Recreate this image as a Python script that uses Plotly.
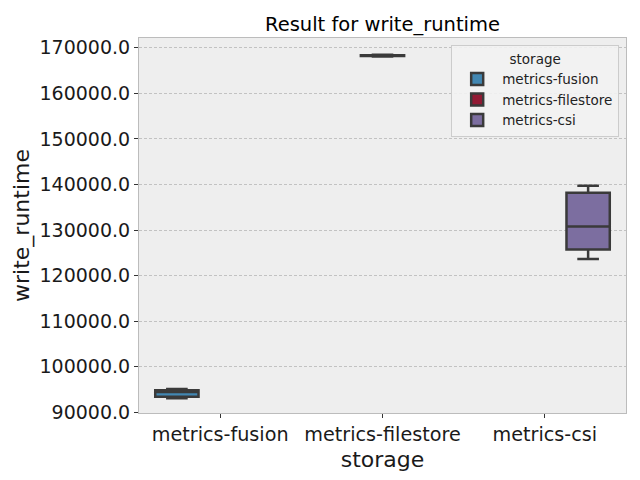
import plotly.graph_objects as go

categories = ["metrics-fusion", "metrics-filestore", "metrics-csi"]
colors = ["#4287B2", "#921A34", "#7C6EA0"]
q1 = [93450, 168150, 125750]
median = [94450, 168250, 130800]
q3 = [94850, 168350, 138200]
lowerfence = [93100, 168050, 123650]
upperfence = [95150, 168450, 139700]
yticks = [90000, 100000, 110000, 120000, 130000, 140000, 150000, 160000, 170000]

font = "DejaVu Sans"
fig = go.Figure()
for i, cat in enumerate(categories):
    fig.add_trace(go.Box(
        x=[cat], q1=[q1[i]], median=[median[i]], q3=[q3[i]],
        lowerfence=[lowerfence[i]], upperfence=[upperfence[i]],
        name=cat, offsetgroup=cat,
        fillcolor=colors[i],
        line=dict(color="#3a3a3a", width=2.5),
        whiskerwidth=0.5, boxpoints=False,
    ))

fig.update_layout(
    width=640, height=480,
    margin=dict(l=139, r=14, t=38, b=67),
    paper_bgcolor="white", plot_bgcolor="#EEEEEE",
    boxmode="group", boxgap=0.2, boxgroupgap=0,
    font=dict(family=font, color="#1a1a1a"),
    title=dict(text="Result for write_runtime", x=0.5, xref="paper", xanchor="center",
               y=1 - 24 / 480, yanchor="middle", font=dict(size=19.5, family=font, color="black")),
    legend=dict(
        x=0.986, xanchor="right", y=0.981, yanchor="top",
        bgcolor="rgba(242,242,242,0.9)", bordercolor="#cccccc", borderwidth=1,
        font=dict(size=13.5, family=font, color="#222"),
        title=dict(text="storage", side="top center", font=dict(size=13.5, family=font, color="#222")),
        tracegroupgap=2, itemwidth=40,
    ),
    showlegend=True,
)
fig.update_xaxes(
    categoryorder="array", categoryarray=categories, range=[-0.5, 2.5],
    showgrid=False, ticks="outside", ticklen=4, tickcolor="#333",
    tickfont=dict(size=19.2, family=font, color="#1a1a1a"),
    title=dict(text="storage", font=dict(size=22, family=font, color="#1a1a1a"), standoff=6),
    showline=True, linecolor="#bcbcbc", linewidth=1, mirror=True, zeroline=False,
)
fig.update_yaxes(
    range=[89870, 172120], tickvals=yticks, tickformat=".1f",
    showgrid=True, gridcolor="#c2c2c2", griddash="3px,2px", gridwidth=0.8,
    ticks="outside", ticklen=4, tickcolor="#333",
    tickfont=dict(size=19, family=font, color="#1a1a1a"),
    title=dict(text="write_runtime", font=dict(size=22, family=font, color="#1a1a1a"), standoff=3),
    showline=True, linecolor="#bcbcbc", linewidth=1, mirror=True, zeroline=False,
)

fig.write_html("out.html")
